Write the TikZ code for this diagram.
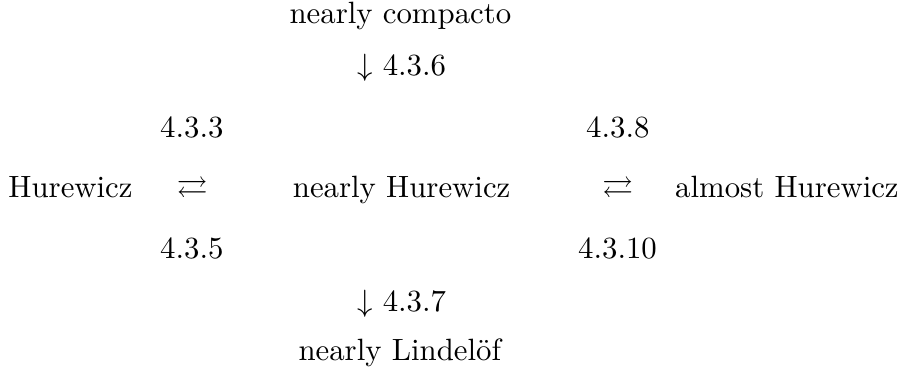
\documentclass[tikz,border=0pt]{standalone}
\usepackage{amsmath,amssymb}
\usepackage{tikz}
\begin{document}
\begin{tikzpicture}[
  x=1pt, y=1pt,
  t/.style={anchor=base, inner sep=0pt, font=\normalsize}
]
  \useasboundingbox (0,0) rectangle (293.2,-122.7);

  \node[t] (ncomp) at (130,-7.5) {nearly compacto};
  \node[t] (dA) at (130.4,-24.4) {$\downarrow$ 4.3.6};

  \node[t] (lA) at (62.3,-44.8) {4.3.3};
  \node[t] (lB) at (200.6,-44.8) {4.3.8};

  \node[t] (hur) at (22.9,-64) {Hurewicz};
  \node[t] (eqA) at (62.4,-64) {$\rightleftarrows$};
  \node[t] (nhur) at (130.4,-64) {nearly Hurewicz};
  \node[t] (eqB) at (200.6,-64) {$\rightleftarrows$};
  \node[t] (ahur) at (255.5,-64) {almost Hurewicz};

  \node[t] (lC) at (62.3,-83.8) {4.3.5};
  \node[t] (lD) at (200.5,-83.8) {4.3.10};

  \node[t] (dB) at (130.4,-101) {$\downarrow$ 4.3.7};
  \node[t] (nlin) at (129.8,-116.9) {nearly Lindel\"of};
\end{tikzpicture}
\end{document}
